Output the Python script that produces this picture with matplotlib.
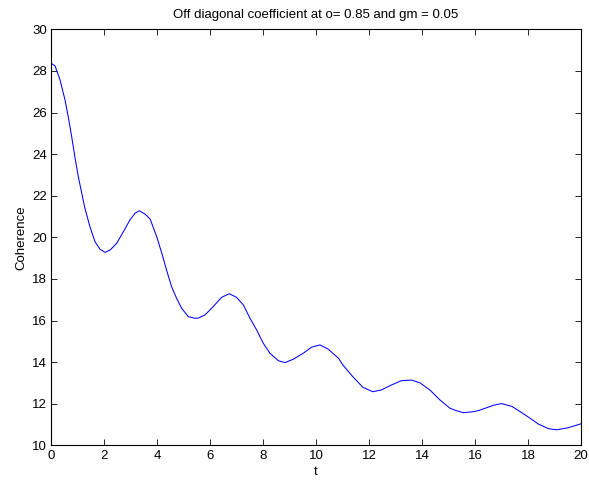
import matplotlib
matplotlib.use("Agg")
import matplotlib.pyplot as plt

# values
t = [0, 0.15, 0.34, 0.53, 0.65, 0.78, 0.9, 1.03, 1.16, 1.28, 1.47, 1.66, 1.85,
     2.04, 2.23, 2.48, 2.73, 2.98, 3.17, 3.33, 3.55, 3.74, 3.99, 4.18, 4.36,
     4.55, 4.74, 4.93, 5.18, 5.43, 5.56, 5.81, 6.12, 6.44, 6.73, 7.0, 7.26,
     7.51, 7.76, 8.01, 8.26, 8.58, 8.83, 9.14, 9.52, 9.83, 10.15, 10.47,
     10.63, 10.85, 11.01, 11.39, 11.77, 12.14, 12.46, 12.84, 13.22, 13.6,
     13.92, 14.3, 14.68, 15.06, 15.27, 15.56, 15.94, 16.15, 16.44, 16.7,
     17.0, 17.4, 17.9, 18.4, 18.78, 19.09, 19.52, 19.96, 20.0]
coherence = [28.37, 28.25, 27.57, 26.6, 25.8, 24.84, 23.88, 22.92, 22.12, 21.4,
             20.51, 19.79, 19.43, 19.28, 19.39, 19.72, 20.27, 20.84, 21.16,
             21.28, 21.12, 20.88, 20.03, 19.24, 18.43, 17.63, 17.07, 16.59,
             16.19, 16.11, 16.12, 16.27, 16.67, 17.12, 17.29, 17.12, 16.75,
             16.11, 15.55, 14.91, 14.43, 14.07, 13.98, 14.14, 14.43, 14.72,
             14.83, 14.62, 14.43, 14.19, 13.87, 13.30, 12.79, 12.58, 12.66,
             12.90, 13.11, 13.14, 13.01, 12.66, 12.18, 11.78, 11.68, 11.57,
             11.62, 11.68, 11.81, 11.93, 12.01, 11.87, 11.46, 11.02, 10.80,
             10.75, 10.85, 11.02, 11.04]

plt.rcParams["font.family"] = ["Liberation Sans", "DejaVu Sans"]
plt.rcParams["font.size"] = 9.5

fig = plt.figure(figsize=(5.89, 4.84), dpi=100)
ax = fig.add_axes([0.0866, 0.0798, 0.8998, 0.8595])
ax.plot(t, coherence, color="#0000ff", linewidth=0.75)
ax.set_xlim(0, 20)
ax.set_ylim(10, 30)
ax.set_xticks(range(0, 21, 2))
ax.set_yticks(range(10, 31, 2))
ax.tick_params(direction="in", top=True, right=True, length=4, width=0.6,
               labelsize=9.5, pad=3)
for s in ax.spines.values():
    s.set_linewidth(0.8)
ax.set_title("Off diagonal coefficient at o= 0.85 and gm = 0.05", fontsize=9.5, pad=8)
ax.set_xlabel("t", labelpad=3)
ax.set_ylabel("Coherence", labelpad=3)
fig.savefig("out.png", dpi=100)
